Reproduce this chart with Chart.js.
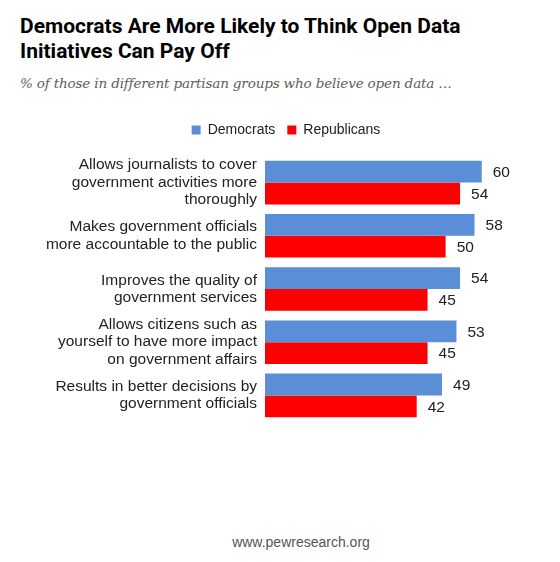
<!DOCTYPE html>
<html>
<head>
<meta charset="utf-8">
<script src="https://cdn.jsdelivr.net/npm/chart.js@4.4.0/dist/chart.umd.min.js"></script>
<style>
  html, body { margin:0; padding:0; background:#fff; }
  body { width:560px; height:562px; position:relative; overflow:hidden; }
  #title { position:absolute; left:20px; top:14px; font-family:Roboto, "Liberation Sans", sans-serif; font-weight:700; font-size:21px; line-height:25px; color:#000; }
  #subtitle { position:absolute; left:20px; top:72px; font-family:"DejaVu Serif", serif; font-style:italic; font-size:13.6px; letter-spacing:-0.2px; line-height:22px; color:#5e5e5e; }
  #footer { position:absolute; left:0; width:602px; text-align:center; top:534px; font-family:"Liberation Sans", Arial, sans-serif; font-size:14px; color:#555; }
  #wrap { position:absolute; left:0; top:111px; width:560px; height:311px; }
</style>
</head>
<body>
<div id="title">Democrats Are More Likely to Think Open Data<br>Initiatives Can Pay Off</div>
<div id="subtitle">% of those in different partisan groups who believe open data …</div>
<div id="wrap"><canvas id="c"></canvas></div>
<div id="footer">www.pewresearch.org</div>
<script>
const categories = [
  ["Allows journalists to cover", "government activities more", "thoroughly"],
  ["Makes government officials", "more accountable to the public"],
  ["Improves the quality of", "government services"],
  ["Allows citizens such as", "yourself to have more impact", "on government affairs"],
  ["Results in better decisions by", "government officials"]
];
const democrats = [60, 58, 54, 53, 49];
const republicans = [54, 50, 45, 45, 42];
const seriesNames = ["Democrats", "Republicans"];
const seriesColors = ["#5a8ed6", "#ff0000"];

const legendSpacer = {
  id: 'legendSpacer',
  beforeInit(chart) {
    const orig = chart.legend.fit;
    chart.legend.fit = function() { orig.bind(chart.legend)(); this.height += 9; };
  }
};
const valueLabels = {
  id: 'valueLabels',
  afterDatasetsDraw(chart) {
    const ctx = chart.ctx;
    ctx.save();
    ctx.font = '15.5px "Liberation Sans", Arial, sans-serif';
    ctx.fillStyle = '#222';
    ctx.textAlign = 'left';
    ctx.textBaseline = 'middle';
    chart.data.datasets.forEach((ds, i) => {
      chart.getDatasetMeta(i).data.forEach((el, j) => {
        ctx.fillText(String(ds.data[j]), el.x + 11, el.y + 1);
      });
    });
    ctx.restore();
  }
};

new Chart(document.getElementById('c'), {
  type: 'bar',
  data: {
    labels: categories,
    datasets: [
      { label: seriesNames[0], data: democrats, backgroundColor: seriesColors[0] },
      { label: seriesNames[1], data: republicans, backgroundColor: seriesColors[1] }
    ]
  },
  options: {
    indexAxis: 'y',
    responsive: true,
    maintainAspectRatio: false,
    animation: false,
    layout: { padding: { left: 18, right: 6, top: 0, bottom: 0 } },
    categoryPercentage: 0.82,
    barPercentage: 1,
    scales: {
      x: { display: false, min: 0, max: 80 },
      y: {
        grid: { display: false, drawTicks: false },
        border: { display: false },
        ticks: {
          autoSkip: false,
          padding: 8,
          color: '#222',
          font: { family: '"Liberation Sans", Arial, sans-serif', size: 15.5, lineHeight: 1.13 }
        },
        afterFit(scale) { scale.width = 247; scale.paddingTop = 0; scale.paddingBottom = 0; }
      }
    },
    plugins: {
      legend: {
        position: 'top',
        align: 'center',
        labels: {
          boxWidth: 9, boxHeight: 9, padding: 12,
          color: '#222',
          font: { family: '"Liberation Sans", Arial, sans-serif', size: 14 }
        }
      },
      tooltip: { enabled: false }
    }
  },
  plugins: [legendSpacer, valueLabels]
});
</script>
</body>
</html>
